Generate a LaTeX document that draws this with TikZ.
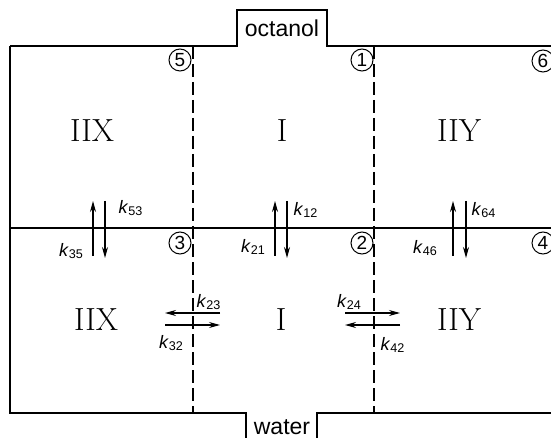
\documentclass[tikz,border=0pt]{standalone}
\usepackage{fontspec}
\setsansfont{Liberation Sans}
\usetikzlibrary{arrows.meta}
\newcommand\kk[1]{\textit{k}\textsubscript{#1}}

\begin{document}
\begin{tikzpicture}[x=1pt,y=-1pt,line width=1.3pt,
  membrane/.style={dash pattern=on 13pt off 5pt},
  rate/.style={-{Stealth[length=11pt,width=6pt]}},
  site/.style={circle,draw,line width=1pt,inner sep=0pt,minimum size=22pt,font=\sffamily\fontsize{19}{19}\selectfont},
  phase/.style={font=\fontsize{32}{32}\selectfont},
  klab/.style={font=\sffamily\fontsize{18}{18}\selectfont,inner sep=0pt},
  medium/.style={font=\sffamily\fontsize{23}{23}\selectfont,inner sep=0pt,anchor=base}]
\useasboundingbox (0,0) rectangle (551,438);
\draw (10,46) -- (237,46) -- (237,10) -- (327,10) -- (327,46) -- (551,46);
\draw (10,46) -- (10,413) -- (246,413) -- (246,438);
\draw (317,438) -- (317,413) -- (551,413);
\draw (10,228) -- (551,228);
\draw[membrane] (193,46) -- (193,413) (374,46) -- (374,413);
\node[medium] (oct) at (282,37) {octanol};
\node[medium] (wat) at (282,434) {water};
\foreach \n/\x/\y in {5/180/60,1/362/60,6/543/61,3/180/243,2/362/243,4/543/243}
  \node[site] (s\n) at (\x,\y) {\n};
\foreach \t/\x/\y/\nm in {IIX/92/131/xo,I/282/131/io,IIY/459/131/yo,IIX/96/320/xw,I/281/320/iw,IIY/459/320/yw}
  \node[phase] (\nm) at (\x,\y) {\t};
\foreach \u/\d in {93/105,275/287,453/466} {
  \draw[rate] (\u,256) -- (\u,201);
  \draw[rate] (\d,201) -- (\d,258);
}
\draw[rate] (220,313) -- (165,313);
\draw[rate] (165,325) -- (220,325);
\draw[rate] (345,313) -- (400,313);
\draw[rate] (400,325) -- (345,325);
\node[klab,anchor=west] (k53) at (118,208) {\kk{53}};
\node[klab,anchor=west] (k12) at (293,210) {\kk{12}};
\node[klab,anchor=west] (k64) at (471,210) {\kk{64}};
\node[klab,anchor=east] (k35) at (84,251) {\kk{35}};
\node[klab,anchor=east] (k21) at (266,247) {\kk{21}};
\node[klab,anchor=east] (k46) at (438,248) {\kk{46}};
\node[klab,anchor=west] (k23) at (196,302) {\kk{23}};
\node[klab,anchor=east] (k32) at (184,343) {\kk{32}};
\node[klab,anchor=east] (k24) at (362,302) {\kk{24}};
\node[klab,anchor=west] (k42) at (380,345) {\kk{42}};
\end{tikzpicture}
\end{document}
